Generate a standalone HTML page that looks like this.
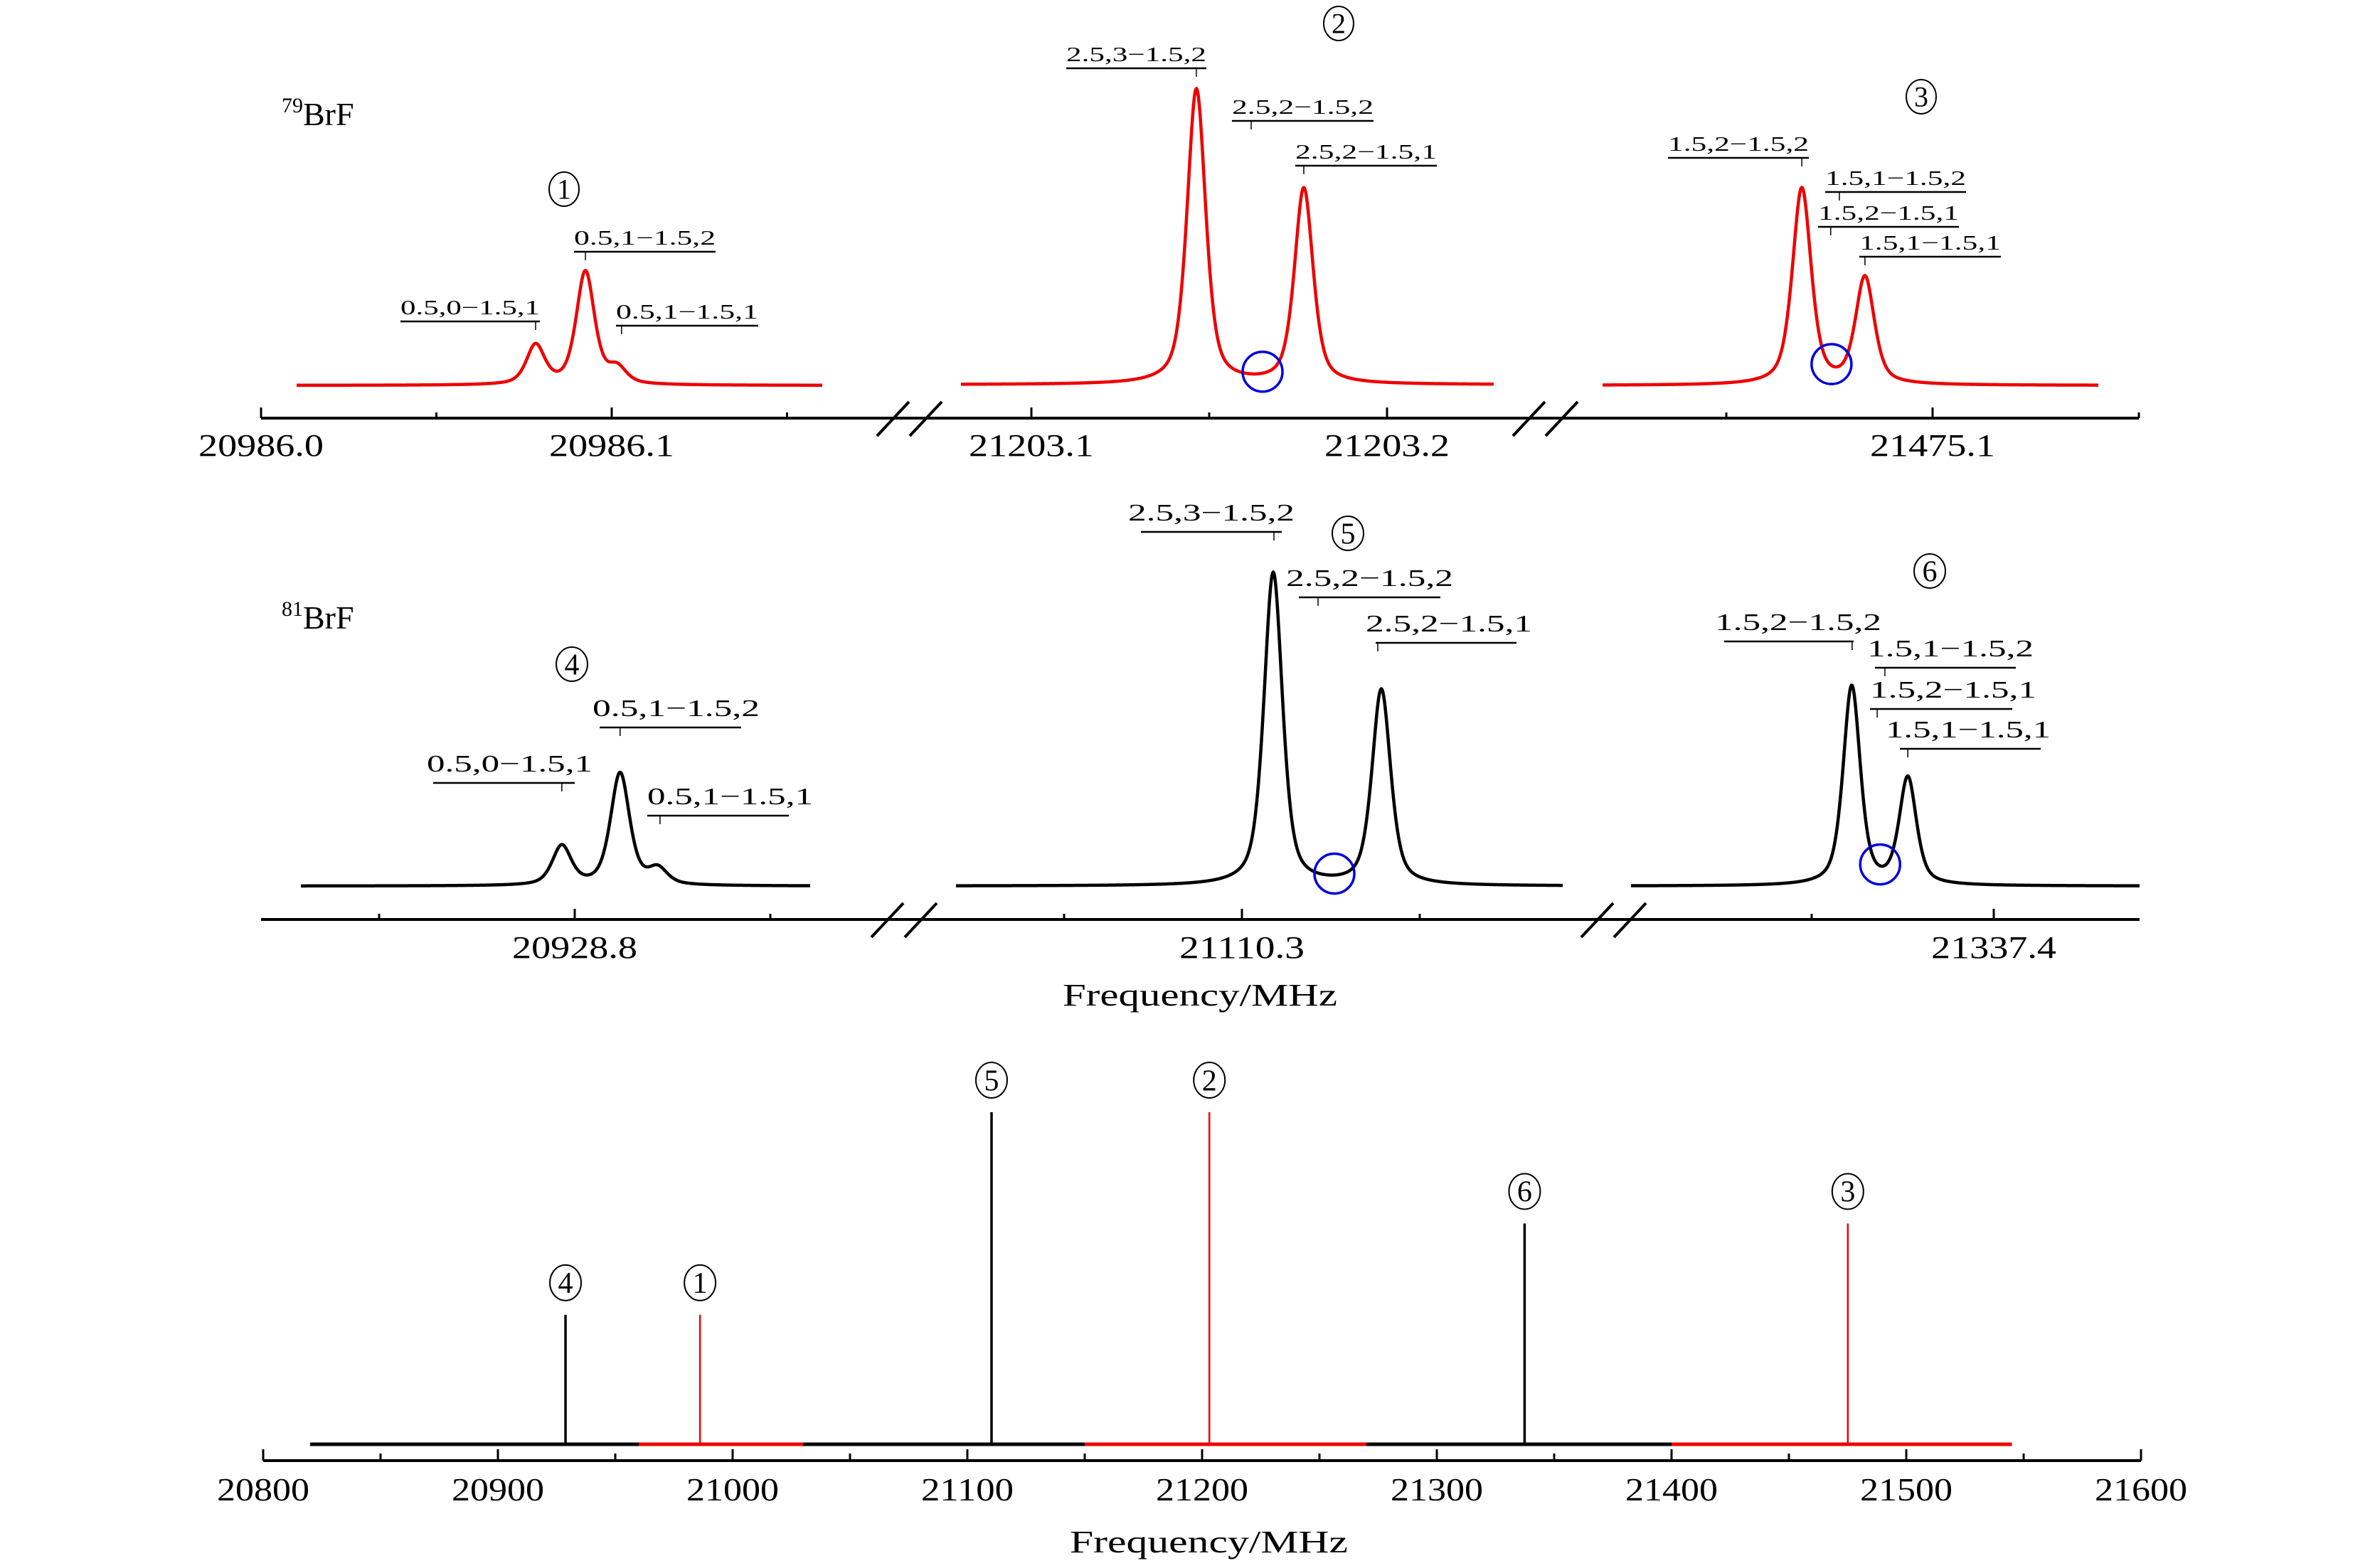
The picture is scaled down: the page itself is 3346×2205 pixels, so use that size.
<!DOCTYPE html>
<html><head><meta charset="utf-8"><style>
html,body{margin:0;padding:0;background:#fff;}
svg{display:block;font-family:"Liberation Serif",serif;}
</style></head><body>
<svg id="chart" xmlns="http://www.w3.org/2000/svg" width="3346" height="2205" viewBox="0 0 3346 2205">
<rect width="3346" height="2205" fill="#fff"/>
<g id="layer"></g>
</svg>
<script>
// ---------- DATA ----------
const p1Freqs = [20986.0783, 20986.0925, 20986.1015];
const p1Amps  = [55, 159, 22];
const p2Freqs = [21203.1464, 21203.1766];
const p2Amps  = [415, 275];
const p3Freqs = [21475.0683, 21475.0836];
const p3Amps  = [276, 150];
const p4Freqs = [20928.7967, 20928.8116, 20928.8212];
const p4Amps  = [55, 158, 22];
const p5Freqs = [21110.3088, 21110.3392];
const p5Amps  = [440, 275];
const p6Freqs = [21337.361, 21337.3764];
const p6Amps  = [280, 150];
const p1Labels = ["0.5,0\u22121.5,1", "0.5,1\u22121.5,2", "0.5,1\u22121.5,1"];
const p1LabelFreqs = [20986.0783, 20986.0925, 20986.1028];
const p2Labels = ["2.5,3\u22121.5,2", "2.5,2\u22121.5,2", "2.5,2\u22121.5,1"];
const p2LabelFreqs = [21203.1464, 21203.1618, 21203.1766];
const p3Labels = ["1.5,2\u22121.5,2", "1.5,1\u22121.5,2", "1.5,2\u22121.5,1", "1.5,1\u22121.5,1"];
const p3LabelFreqs = [21475.0683, 21475.0774, 21475.0753, 21475.0836];
const p4Labels = ["0.5,0\u22121.5,1", "0.5,1\u22121.5,2", "0.5,1\u22121.5,1"];
const p4LabelFreqs = [20928.7967, 20928.8116, 20928.8218];
const p5Labels = ["2.5,3\u22121.5,2", "2.5,2\u22121.5,2", "2.5,2\u22121.5,1"];
const p5LabelFreqs = [21110.309, 21110.3214, 21110.3382];
const p6Labels = ["1.5,2\u22121.5,2", "1.5,1\u22121.5,2", "1.5,2\u22121.5,1", "1.5,1\u22121.5,1"];
const p6LabelFreqs = [21337.3611, 21337.3701, 21337.368, 21337.3764];
const circleFreqs = [21203.165, 21475.0755, 21110.326, 21337.3688];
const p1Ticks = [20986.0, 20986.05, 20986.1, 20986.15];
const p1TickLabels = ["20986.0", "", "20986.1", ""];
const p2Ticks = [21203.1, 21203.15, 21203.2];
const p2TickLabels = ["21203.1", "", "21203.2"];
const p3Ticks = [21475.05, 21475.1, 21475.15];
const p3TickLabels = ["", "21475.1", ""];
const p4Ticks = [20928.75, 20928.8, 20928.85];
const p4TickLabels = ["", "20928.8", ""];
const p5Ticks = [21110.25, 21110.3, 21110.35];
const p5TickLabels = ["", "21110.3", ""];
const p6Ticks = [21337.35, 21337.4];
const p6TickLabels = ["", "21337.4"];
const stickNames = ["4", "1", "5", "2", "6", "3"];
const stickFreqs = [20928.8, 20986.1, 21110.3, 21203.1, 21337.4, 21475.1];
const stickIntens = [0.39, 0.39, 1.0, 1.0, 0.665, 0.665];
const stickIso = ["81", "79", "81", "79", "81", "79"];
const baseSegStart = [20820, 20960, 21030, 21150, 21270, 21400];
const baseSegEnd   = [20960, 21030, 21150, 21270, 21400, 21545];
const baseSegIso   = ["81", "79", "81", "79", "81", "79"];
const bottomTicks = [20800,20850,20900,20950,21000,21050,21100,21150,21200,21250,21300,21350,21400,21450,21500,21550,21600];
const bottomTickLabels = ["20800","","20900","","21000","","21100","","21200","","21300","","21400","","21500","","21600"];

// ---------- LAYOUT ----------
const NS = "http://www.w3.org/2000/svg";
const layer = document.getElementById('layer');
function mk(tag, attrs, parent) {
  const e = document.createElementNS(NS, tag);
  for (const k in attrs) e.setAttribute(k, attrs[k]);
  (parent || layer).appendChild(e);
  return e;
}
const RED = "#ee0000", BLK = "#000", BLUE = "#0000dd";

const panels = [
  {id:'p1', f0:20986.0, x0:367, k:4930, xa:417, xb:1156, base:542, color:RED, fw:0.0062, freqs:p1Freqs, amps:p1Amps, ticks:p1Ticks, tl:p1TickLabels, axisY:588, tlY:641,
   labels:p1Labels, lf:p1LabelFreqs, lay:[[563,759,452],[807,1006,354],[866,1066,458]], lfs:29, loff:10},
  {id:'p2', f0:21203.1, x0:1450, k:5000, xa:1351, xb:2100, base:541, color:RED, fw:0.0062, freqs:p2Freqs, amps:p2Amps, ticks:p2Ticks, tl:p2TickLabels, axisY:588, tlY:641,
   labels:p2Labels, lf:p2LabelFreqs, lay:[[1499,1696,96],[1732,1931,170],[1821,2020,233]], lfs:29, loff:10},
  {id:'p3', f0:21475.1, x0:2717, k:5800, xa:2253, xb:2950, base:542, color:RED, fw:0.0054, freqs:p3Freqs, amps:p3Amps, ticks:p3Ticks, tl:p3TickLabels, axisY:588, tlY:641,
   labels:p3Labels, lf:p3LabelFreqs, lay:[[2345,2543,222],[2566,2764,270],[2556,2754,319],[2614,2813,361]], lfs:29, loff:10},
  {id:'p4', f0:20928.8, x0:808, k:5500, xa:423, xb:1139, base:1246, color:BLK, fw:0.0058, freqs:p4Freqs, amps:p4Amps, ticks:p4Ticks, tl:p4TickLabels, axisY:1293, tlY:1347,
   labels:p4Labels, lf:p4LabelFreqs, lay:[[609,808,1101,600,833],[843,1042,1023,833,1068],[910,1109,1147,910,1143]], lfs:34, loff:16},
  {id:'p5', f0:21110.3, x0:1746, k:5000, xa:1344, xb:2197, base:1246, color:BLK, fw:0.0062, freqs:p5Freqs, amps:p5Amps, ticks:p5Ticks, tl:p5TickLabels, axisY:1293, tlY:1347,
   labels:p5Labels, lf:p5LabelFreqs, lay:[[1604,1802,748,1586,1820],[1826,2025,840,1808,2043],[1934,2132,904,1920,2154]], lfs:34, loff:16},
  {id:'p6', f0:21337.4, x0:2803, k:5120, xa:2293, xb:3008, base:1246, color:BLK, fw:0.0056, freqs:p6Freqs, amps:p6Amps, ticks:p6Ticks, tl:p6TickLabels, axisY:1293, tlY:1347,
   labels:p6Labels, lf:p6LabelFreqs, lay:[[2424,2606,902,2411,2645],[2636,2834,939,2625,2859],[2629,2829,997,2629,2863],[2671,2869,1053,2651,2883]], lfs:34, loff:16}
];
function pv(d, fw) {
  const u = 2*d/fw;
  return 0.55/(1+u*u) + 0.45*Math.exp(-Math.LN2*u*u);
}
function xOf(p, f) { return p.x0 + (f - p.f0)*p.k; }
function fOf(p, x) { return p.f0 + (x - p.x0)/p.k; }
function yOf(p, f) {
  let s = 0;
  for (let i = 0; i < p.freqs.length; i++) s += p.amps[i]*pv(f - p.freqs[i], p.fw);
  return p.base - s;
}

[[588,367,3007],[1293,367,3008]].forEach(function(a, i){
  const l = mk('line', {x1:a[1], y1:a[0], x2:a[2], y2:a[0], stroke:BLK, 'stroke-width':4});
  
  
});
[[1233,588],[1279,588],[2127,588],[2173,588],[1225,1293],[1272,1293],[2223,1293],[2269,1293]].forEach(function(b){
  const s = mk('line', {x1:b[0], y1:b[1]+25, x2:b[0]+45, y2:b[1]-23, stroke:BLK, 'stroke-width':4});
  
  
});

panels.forEach(function(p){
  const g = mk('g', {});
  
  
  p.ticks.forEach(function(t, i){
    const x = xOf(p, t);
    const major = p.tl[i] !== "";
    const tk = mk('line', {x1:x, y1:p.axisY, x2:x, y2:p.axisY - (major ? 15 : 8), stroke:BLK, 'stroke-width':3}, g);
    
    
    if (major) {
      const tx = mk('text', {x:x, y:p.tlY, 'text-anchor':'middle', 'font-size':44, textLength:176, lengthAdjust:'spacingAndGlyphs'}, g);
      tx.textContent = p.tl[i];
      
      
    }
  });
  let d = '';
  for (let x = p.xa; x <= p.xb; x += 1) {
    const y = yOf(p, fOf(p, x));
    d += (x === p.xa ? 'M' : 'L') + x + ' ' + y.toFixed(2);
  }
  const path = mk('path', {d:d, fill:'none', stroke:p.color, 'stroke-width':4.5, 'stroke-linejoin':'round'}, g);
  
  
  p.labels.forEach(function(txt, i){
    const L = p.lay[i];
    const tx0 = L.length > 3 ? L[3] : L[0], tx1 = L.length > 3 ? L[4] : L[1];
    const t = mk('text', {x:tx0, y:L[2]-p.loff, 'font-size':p.lfs, textLength:(tx1-tx0), lengthAdjust:'spacingAndGlyphs'}, g);
    t.textContent = txt;
    
    
    const ul = mk('line', {x1:L[0], y1:L[2], x2:L[1], y2:L[2], stroke:BLK, 'stroke-width':2.5}, g);
    
    
    const xt = xOf(p, p.lf[i]);
    const tk = mk('line', {x1:xt, y1:L[2], x2:xt, y2:L[2]+12, stroke:BLK, 'stroke-width':1.5}, g);
    
    
  });
});

[[panels[1],0],[panels[2],1],[panels[4],2],[panels[5],3]].forEach(function(c){
  const p = c[0], f = circleFreqs[c[1]];
  const ci = mk('circle', {cx:xOf(p, f), cy:yOf(p, f)-2, r:28, fill:'none', stroke:BLUE, 'stroke-width':3.5});
  
  
});

function circled(cx, cy, n, rx, ry, fs) {
  const g = mk('g', {});
  
  
  mk('ellipse', {cx:cx, cy:cy, rx:rx, ry:ry, fill:'none', stroke:BLK, 'stroke-width':2}, g);
  const t = mk('text', {x:cx, y:cy + fs*0.34, 'text-anchor':'middle', 'font-size':fs}, g);
  t.textContent = n;
}
circled(793, 266, '1', 21, 24, 40);
circled(1882, 33, '2', 21, 24, 40);
circled(2701, 136, '3', 21, 24, 40);
circled(804, 934, '4', 22, 24, 42);
circled(1895, 750, '5', 22, 24, 42);
circled(2713, 803, '6', 22, 24, 42);

function iso(x, y, sup) {
  const t = mk('text', {x:x, y:y, 'font-size':46});
  
  
  const s = mk('tspan', {'font-size':30, dy:-18}, t); s.textContent = sup;
  const b = mk('tspan', {dy:18}, t); b.textContent = 'BrF';
}
iso(396, 176, '79');
iso(396, 884, '81');

const mt = mk('text', {x:1494, y:1414, 'font-size':44, textLength:386, lengthAdjust:'spacingAndGlyphs'});
mt.textContent = 'Frequency/MHz';



// ---------- bottom overview ----------
const bx = function(f){ return 370 + (f - 20800)*(3010-370)/800; };
const by0 = 2031, bscale = 467, baxY = 2054;
const ax = mk('line', {x1:370, y1:baxY, x2:3010, y2:baxY, stroke:BLK, 'stroke-width':4});


bottomTicks.forEach(function(t, i){
  const x = bx(t);
  const major = bottomTickLabels[i] !== "";
  const tk = mk('line', {x1:x, y1:baxY, x2:x, y2:baxY-(major?16:10), stroke:BLK, 'stroke-width':3});
  
  
  if (major) {
    const tx = mk('text', {x:x, y:2110, 'text-anchor':'middle', 'font-size':46, textLength:130, lengthAdjust:'spacingAndGlyphs'});
    tx.textContent = bottomTickLabels[i];
    
    
  }
});
baseSegStart.forEach(function(s, i){
  const l = mk('line', {x1:bx(s), y1:by0, x2:bx(baseSegEnd[i]), y2:by0, stroke:baseSegIso[i]==='79'?RED:BLK, 'stroke-width':5});
  
  
});
stickFreqs.forEach(function(f, i){
  const x = bx(f), top = by0 - stickIntens[i]*bscale;
  const l = mk('line', {x1:x, y1:by0, x2:x, y2:top, stroke:stickIso[i]==='79'?RED:BLK, 'stroke-width':stickIso[i]==='79'?2.5:3.5});
  
  
  circled(x, top - 45, stickNames[i], 22, 25, 42);
});
const bt = mk('text', {x:1504, y:2183, 'font-size':44, textLength:391, lengthAdjust:'spacingAndGlyphs'});
bt.textContent = 'Frequency/MHz';


</script>
</body></html>
